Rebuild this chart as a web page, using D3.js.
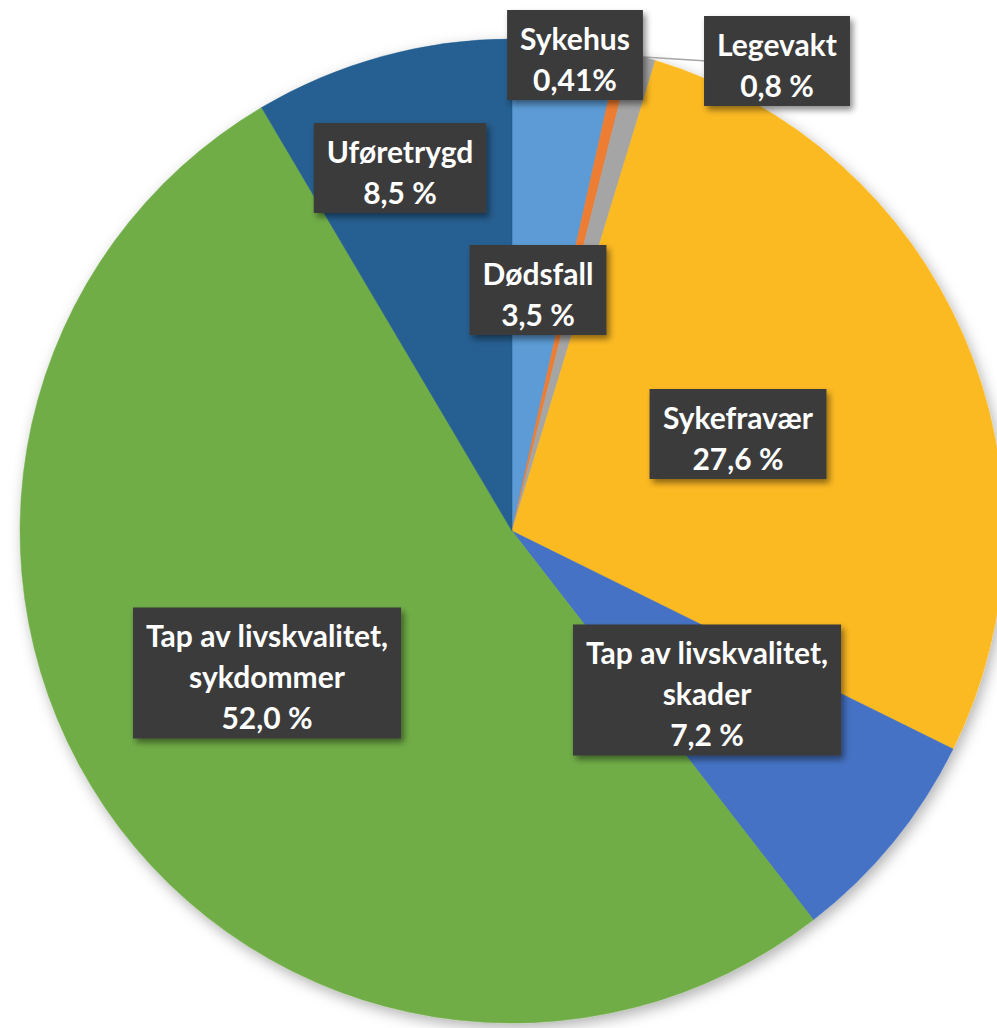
<!DOCTYPE html>
<html>
<head>
<meta charset="utf-8">
<script src="https://cdn.jsdelivr.net/npm/d3@7"></script>
<style>
  html, body { margin: 0; padding: 0; background: #ffffff; }
  svg { display: block; }
</style>
</head>
<body>
<script>
// Slice names, shares (percent) and the label text shown for each.
const categories = [
  "Dødsfall",
  "Sykehus",
  "Legevakt",
  "Sykefravær",
  "Tap av livskvalitet, skader",
  "Tap av livskvalitet, sykdommer",
  "Uføretrygd"
];
const values = [3.5, 0.41, 0.8, 27.6, 7.2, 52.0, 8.5];
const valueLabels = ["3,5 %", "0,41%", "0,8 %", "27,6 %", "7,2 %", "52,0 %", "8,5 %"];
const nameLines = [
  ["Dødsfall"],
  ["Sykehus"],
  ["Legevakt"],
  ["Sykefravær"],
  ["Tap av livskvalitet,", "skader"],
  ["Tap av livskvalitet,", "sykdommer"],
  ["Uføretrygd"]
];
const colors = ["#5b9bd5", "#ed7d31", "#a5a5a5", "#fcba24", "#4472c4", "#70ad47", "#255e91"];

// Label box centres (layout only)
const labelCenters = [
  [538, 290], [575, 55], [777, 61], [738, 434], [707, 690], [267, 673], [400, 168]
];
// Slices whose labels sit outside the pie get a leader line
const leader = [false, false, true, false, false, false, false];

const W = 997, H = 1028;
const cx = 512, cy = 531, R = 492;

const svg = d3.select("body").append("svg")
  .attr("width", W).attr("height", H);

const defs = svg.append("defs");
const pieShadow = defs.append("filter").attr("id", "pieShadow")
  .attr("x", "-10%").attr("y", "-10%").attr("width", "120%").attr("height", "120%");
pieShadow.append("feDropShadow")
  .attr("dx", 3).attr("dy", 5).attr("stdDeviation", 7)
  .attr("flood-color", "#000").attr("flood-opacity", 0.3);

const boxShadow = defs.append("filter").attr("id", "boxShadow")
  .attr("x", "-20%").attr("y", "-20%").attr("width", "140%").attr("height", "140%");
boxShadow.append("feDropShadow")
  .attr("dx", 3).attr("dy", 4).attr("stdDeviation", 3)
  .attr("flood-color", "#000").attr("flood-opacity", 0.45);

const data = categories.map((c, i) => ({
  name: c, value: values[i], label: valueLabels[i], lines: nameLines[i],
  color: colors[i], pos: labelCenters[i], leader: leader[i]
}));

const pie = d3.pie().value(d => d.value).sort(null);
const arc = d3.arc().innerRadius(0).outerRadius(R);
const arcs = pie(data);

const g = svg.append("g").attr("transform", `translate(${cx},${cy})`);

g.append("g").attr("filter", "url(#pieShadow)")
  .selectAll("path").data(arcs).join("path")
  .attr("d", arc)
  .attr("fill", d => d.data.color)
  .attr("stroke", d => d.data.color)
  .attr("stroke-width", 0.5);

// Leader lines from slice edge to the label box
g.append("g").selectAll("line").data(arcs.filter(d => d.data.leader)).join("line")
  .each(function(d) {
    const a = (d.startAngle + d.endAngle) / 2;
    const x0 = Math.sin(a) * R, y0 = -Math.cos(a) * R;
    d3.select(this)
      .attr("x1", x0).attr("y1", y0)
      .attr("x2", d.data.pos[0] - cx - 70).attr("y2", d.data.pos[1] - cy)
      .attr("stroke", "#a6a6a6").attr("stroke-width", 1.5);
  });

// Labels
const fontSize = 30, lineH = 41, padX = 13, padY = 4, textShift = 3;
const labels = svg.append("g").selectAll("g").data(arcs).join("g")
  .attr("transform", d => `translate(${d.data.pos[0]},${d.data.pos[1]})`);

labels.each(function(d) {
  const sel = d3.select(this);
  const lines = d.data.lines.concat([d.data.label]);
  const rect = sel.append("rect").attr("fill", "#3b3b3b").attr("filter", "url(#boxShadow)");
  const h = lines.length * lineH + padY * 2;
  const txt = sel.append("text")
    .attr("text-anchor", "middle")
    .attr("fill", "#ffffff")
    .style("font-family", "Lato, 'Open Sans', sans-serif")
    .style("font-weight", "700")
    .style("font-size", fontSize + "px");
  lines.forEach((ln, i) => {
    txt.append("tspan")
      .attr("x", 0)
      .attr("y", -h / 2 + padY + lineH * i + lineH / 2 + textShift)
      .attr("dominant-baseline", "central")
      .text(ln);
  });
  const bb = txt.node().getBBox();
  const w = bb.width + padX * 2;
  rect.attr("x", -w / 2).attr("y", -h / 2).attr("width", w).attr("height", h);
});
</script>
</body>
</html>
